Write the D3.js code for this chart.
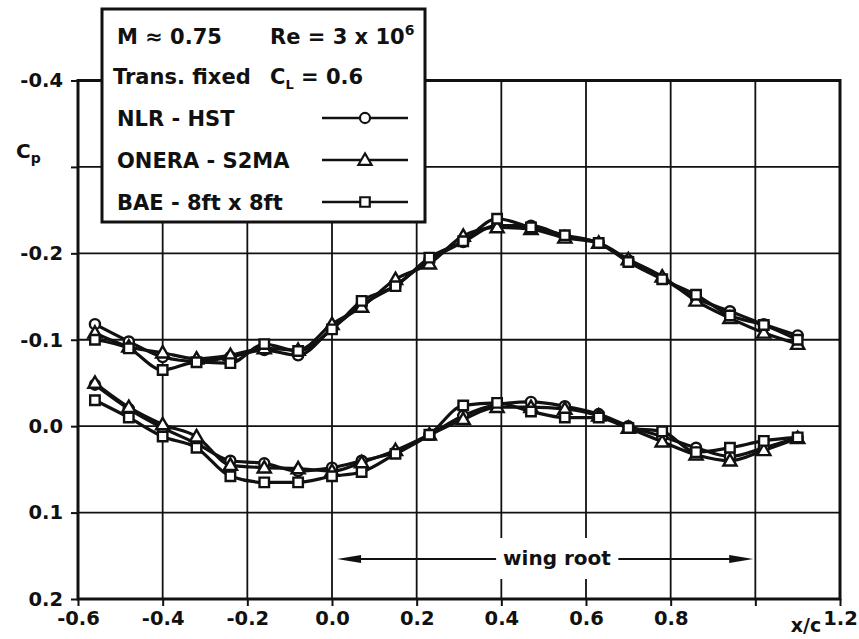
<!DOCTYPE html>
<html>
<head>
<meta charset="utf-8">
<script src="https://cdn.jsdelivr.net/npm/d3@7/dist/d3.min.js"></script>
<style>
  html, body { margin: 0; padding: 0; background: #fff; }
  svg { display: block; }
  text { font-family: "DejaVu Sans", sans-serif; font-weight: bold; fill: #111; }
</style>
</head>
<body>
<svg id="chart" width="859" height="639"></svg>
<script>
// Chordwise stations x/c
const xc = [-0.56, -0.48, -0.40, -0.32, -0.24, -0.16, -0.08, 0.00, 0.07, 0.15, 0.23,
            0.31, 0.39, 0.47, 0.55, 0.63, 0.70, 0.78, 0.86, 0.94, 1.02, 1.10];

// Upper surface Cp
const nlrUpper   = [-0.118, -0.098, -0.080, -0.075, -0.080, -0.088, -0.082, -0.113, -0.140, -0.163, -0.192,
                    -0.213, -0.232, -0.232, -0.220, -0.212, -0.192, -0.171, -0.148, -0.133, -0.118, -0.105];
const oneraUpper = [-0.108, -0.092, -0.085, -0.078, -0.082, -0.090, -0.088, -0.118, -0.138, -0.170, -0.188,
                    -0.220, -0.230, -0.228, -0.218, -0.212, -0.193, -0.173, -0.145, -0.125, -0.108, -0.095];
const baeUpper   = [-0.100, -0.090, -0.065, -0.074, -0.073, -0.095, -0.087, -0.112, -0.145, -0.162, -0.195,
                    -0.214, -0.240, -0.230, -0.221, -0.212, -0.190, -0.170, -0.152, -0.128, -0.117, -0.100];

// Lower surface Cp
const nlrLower   = [-0.048, -0.020, 0.002, 0.020, 0.040, 0.043, 0.052, 0.048, 0.040, 0.030, 0.010,
                    -0.012, -0.025, -0.028, -0.023, -0.014, 0.000, 0.012, 0.025, 0.035, 0.025, 0.013];
const oneraLower = [-0.050, -0.022, -0.002, 0.012, 0.045, 0.048, 0.049, 0.052, 0.042, 0.028, 0.010,
                    -0.008, -0.022, -0.022, -0.020, -0.012, 0.002, 0.018, 0.033, 0.040, 0.028, 0.014];
const baeLower   = [-0.030, -0.010, 0.012, 0.025, 0.058, 0.065, 0.065, 0.058, 0.053, 0.032, 0.010,
                    -0.024, -0.027, -0.017, -0.010, -0.010, 0.002, 0.006, 0.030, 0.025, 0.017, 0.013];

// Axis ticks
const xTicks = [-0.6, -0.4, -0.2, 0.0, 0.2, 0.4, 0.6, 0.8, 1.0, 1.2];
const yTicks = [-0.4, -0.3, -0.2, -0.1, 0.0, 0.1, 0.2];
const xTickLabels = ["-0.6", "-0.4", "-0.2", "0.0", "0.2", "0.4", "0.6", "0.8", "", "1.2"];
const yTickLabels = ["-0.4", "", "-0.2", "-0.1", "0.0", "0.1", "0.2"];

// Legend entries
const seriesNames = ["NLR - HST", "ONERA - S2MA", "BAE - 8ft x 8ft"];
const seriesSymbols = ["circle", "triangle", "square"];

const svg = d3.select("#chart");
const plotLeft = 78, plotRight = 840, plotTop = 80.5, plotBottom = 599;

const x = d3.scaleLinear().domain([-0.6, 1.2]).range([plotLeft, plotRight]);
const y = d3.scaleLinear().domain([-0.4, 0.2]).range([plotTop, plotBottom]);

// Grid
const grid = svg.append("g");
grid.selectAll("line.v").data(xTicks.slice(1, -1)).join("line")
  .attr("x1", d => x(d)).attr("x2", d => x(d))
  .attr("y1", plotTop).attr("y2", plotBottom)
  .attr("stroke", "#111").attr("stroke-width", 1.8);
grid.selectAll("line.h").data(yTicks.slice(1, -1)).join("line")
  .attr("x1", plotLeft).attr("x2", plotRight)
  .attr("y1", d => y(d)).attr("y2", d => y(d))
  .attr("stroke", "#111").attr("stroke-width", 1.8);

// Axes with outward ticks
const yAxis = d3.axisLeft(y).tickValues(yTicks).tickSize(7).tickPadding(4)
  .tickFormat((d, i) => yTickLabels[i]);
const xAxis = d3.axisBottom(x).tickValues(xTicks).tickSize(7).tickPadding(5)
  .tickFormat((d, i) => xTickLabels[i]);

const gy = svg.append("g").attr("transform", `translate(${plotLeft},0)`).call(yAxis);
const gx = svg.append("g").attr("transform", `translate(0,${plotBottom})`).call(xAxis);
[gx, gy].forEach(g => {
  g.select(".domain").remove();
  g.selectAll(".tick line").attr("stroke", "#111").attr("stroke-width", 2);
  g.selectAll(".tick text").attr("font-size", 19.5).attr("font-family", "DejaVu Sans")
    .attr("font-weight", "bold").attr("fill", "#111");
});
gy.selectAll(".tick text").attr("x", -15);

// Plot frame
svg.append("rect").attr("x", plotLeft).attr("y", plotTop)
  .attr("width", plotRight - plotLeft).attr("height", plotBottom - plotTop)
  .attr("fill", "none").attr("stroke", "#111").attr("stroke-width", 3);

// Axis titles
const cp = svg.append("text").attr("x", 16).attr("y", 158).attr("font-size", 20);
cp.append("tspan").text("C");
cp.append("tspan").attr("font-size", 14).attr("dy", 5).text("p");

svg.append("text").attr("x", 806).attr("y", 632).attr("text-anchor", "middle")
  .attr("font-size", 19).text("x/c");

// Wing root span marker
const rootY = 559;
const rootBack = svg.append("rect").attr("fill", "#fff");
const rootLabel = svg.append("text").attr("x", 557).attr("y", rootY + 6)
  .attr("text-anchor", "middle").attr("font-size", 20).text("wing root");
const lb = rootLabel.node().getBBox();
rootBack.attr("x", lb.x - 8).attr("y", rootY - 21).attr("width", lb.width + 16).attr("height", 41);
const arrowL = x(0.012), arrowR = x(0.995);
svg.append("line").attr("x1", arrowL + 10).attr("x2", lb.x - 7)
  .attr("y1", rootY).attr("y2", rootY).attr("stroke", "#111").attr("stroke-width", 2.2);
svg.append("line").attr("x1", lb.x + lb.width + 7).attr("x2", arrowR - 10)
  .attr("y1", rootY).attr("y2", rootY).attr("stroke", "#111").attr("stroke-width", 2.2);
svg.append("path")
  .attr("d", `M${arrowL},${rootY} L${arrowL + 24},${rootY - 4} L${arrowL + 24},${rootY + 4} Z`)
  .attr("fill", "#111");
svg.append("path")
  .attr("d", `M${arrowR},${rootY} L${arrowR - 24},${rootY - 4} L${arrowR - 24},${rootY + 4} Z`)
  .attr("fill", "#111");

// Data curves
const line = d3.line().x(d => x(d[0])).y(d => y(d[1])).curve(d3.curveMonotoneX);
const symbolGen = {
  circle:   d3.symbol().type(d3.symbolCircle).size(80),
  triangle: d3.symbol().type(d3.symbolTriangle).size(75),
  square:   d3.symbol().type(d3.symbolSquare).size(90)
};

const series = [
  { sym: "circle",   upper: nlrUpper,   lower: nlrLower },
  { sym: "triangle", upper: oneraUpper, lower: oneraLower },
  { sym: "square",   upper: baeUpper,   lower: baeLower }
];

const curves = svg.append("g");
series.forEach(s => {
  [s.upper, s.lower].forEach(vals => {
    const pts = xc.map((v, i) => [v, vals[i]]);
    curves.append("path").attr("d", line(pts))
      .attr("fill", "none").attr("stroke", "#111").attr("stroke-width", 3.2)
      .attr("stroke-linejoin", "round");
  });
});
series.forEach(s => {
  [s.upper, s.lower].forEach(vals => {
    curves.append("g").selectAll("path").data(xc.map((v, i) => [v, vals[i]])).join("path")
      .attr("d", symbolGen[s.sym])
      .attr("transform", d => `translate(${x(d[0])},${y(d[1]) + (s.sym === "triangle" ? 1 : 0)})`)
      .attr("fill", "#fff").attr("stroke", "#111").attr("stroke-width", 2.4);
  });
});

// Legend box
const lg = svg.append("g");
lg.append("rect").attr("x", 102).attr("y", 9).attr("width", 323).attr("height", 213)
  .attr("fill", "#fff").attr("stroke", "#111").attr("stroke-width", 3);

const fs = 21;
lg.append("text").attr("x", 117).attr("y", 44).attr("font-size", fs).text("M \u2248 0.75");
const re = lg.append("text").attr("x", 270).attr("y", 44).attr("font-size", fs);
re.append("tspan").text("Re = 3 x 10");
re.append("tspan").attr("font-size", 14).attr("dy", -9).text("6");

lg.append("text").attr("x", 113).attr("y", 84).attr("font-size", fs).text("Trans. fixed");
const cl = lg.append("text").attr("x", 270).attr("y", 84).attr("font-size", fs);
cl.append("tspan").text("C");
cl.append("tspan").attr("font-size", 13).attr("dy", 5).text("L");
cl.append("tspan").attr("dy", -5).text(" = 0.6");

const rowY = [118, 160, 202];
seriesNames.forEach((name, i) => {
  lg.append("text").attr("x", 117).attr("y", rowY[i] + 8).attr("font-size", fs).text(name);
  lg.append("line").attr("x1", 322).attr("x2", 408).attr("y1", rowY[i]).attr("y2", rowY[i])
    .attr("stroke", "#111").attr("stroke-width", 2.6);
  lg.append("path").attr("d", symbolGen[seriesSymbols[i]])
    .attr("transform", `translate(365,${rowY[i] + (seriesSymbols[i] === "triangle" ? 1 : 0)})`)
    .attr("fill", "#fff").attr("stroke", "#111").attr("stroke-width", 2.2);
});
</script>
</body>
</html>
